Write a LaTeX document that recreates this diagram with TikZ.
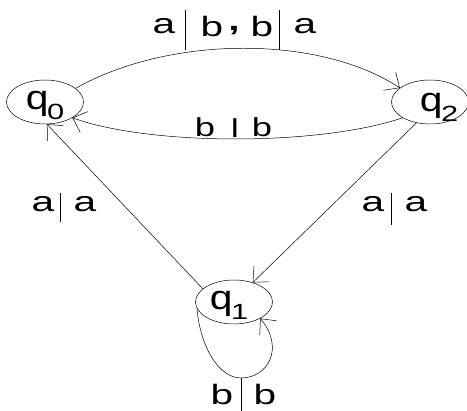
\documentclass[tikz,border=0pt]{standalone}
\usepackage{fontspec}
\usepackage{graphicx}
\setmainfont{Liberation Sans}
\usetikzlibrary{arrows.meta,shapes.geometric}
\newcommand\widetxt[1]{\scalebox{1.45}[1]{\fontsize{28}{28}\selectfont #1}}
\newcommand\midtxt[1]{\scalebox{1.4}[1]{\fontsize{26}{26}\selectfont #1}}
\newcommand\stname[1]{\scalebox{1.2}[1]{\fontsize{34}{34}\selectfont q}\kern-1.5pt\raisebox{-10pt}{\scalebox{1.4}[1]{\fontsize{22}{22}\selectfont #1}}}
\begin{document}
\begin{tikzpicture}[x=1pt,y=-1pt,
  state/.style={draw,ellipse,minimum width=77pt,minimum height=44pt,inner sep=0pt,line width=0.5pt},
  edge/.style={line width=0.5pt,-{Straight Barb[length=12pt,width=22pt,line width=0.5pt]}},
  lbl/.style={inner sep=0pt},
  barline/.style={line width=0.6pt}]
\useasboundingbox (0,0) rectangle (467,411);
\node[state] (q0) at (45,102) {};
\node[state] (q2) at (430,102) {};
\node[state] (q1) at (234,302) {};
\node[inner sep=0pt,anchor=center] (t0) at (45,105) {\stname{0}};
\node[inner sep=0pt,anchor=center] (t2) at (439,107) {\stname{2}};
\node[inner sep=0pt,anchor=center] (t1) at (229,305) {\stname{1}};
% edges
\draw[edge] (q0.24) .. controls (170,35) and (320,35) .. (q2.155);
\draw[edge] (q2.-150) .. controls (320,146) and (150,146) .. (q0.-30);
\draw[edge] (q1.157) -- (q0.-85);
\draw[edge] (q2.-123) -- (q1.46);
\draw[edge] (q1.190) .. controls (200,345) and (218,378) .. (241,378) .. controls (268,378) and (285,348) .. (q1.-32);
% labels
\node[lbl] (la1) at (164,26) {\widetxt{a}};
\node[lbl] (lb1) at (212,26) {\widetxt{b}};
\node[lbl] (lc) at (234,31) {\widetxt{\textbf{,}}};
\node[lbl] (lb2) at (262,26) {\widetxt{b}};
\node[lbl] (la2) at (305,26) {\widetxt{a}};
\draw[barline] (185,10) -- (185,50);
\draw[barline] (279,10) -- (279,50);
\node[lbl] (bb1) at (205,127) {\midtxt{b}};
\node[lbl] (bbar) at (235,128) {\midtxt{l}};
\node[lbl] (bb2) at (262,127) {\midtxt{b}};
\node[lbl] (la3) at (43,204) {\widetxt{a}};
\node[lbl] (la4) at (85,204) {\widetxt{a}};
\draw[barline] (60,193) -- (60,222);
\node[lbl] (la5) at (373,204) {\widetxt{a}};
\node[lbl] (la6) at (416,204) {\widetxt{a}};
\draw[barline] (391,193) -- (391,225);
\node[lbl] (lb3) at (222,394) {\widetxt{b}};
\node[lbl] (lb4) at (265,394) {\widetxt{b}};
\draw[barline] (241,378) -- (241,411);
\end{tikzpicture}
\end{document}
